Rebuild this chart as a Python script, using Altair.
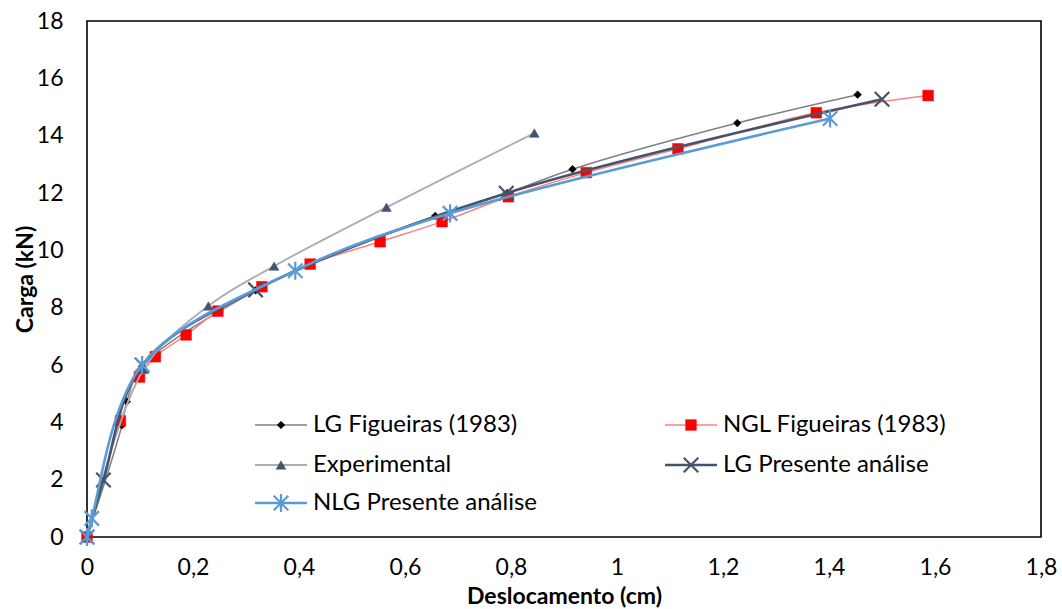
import altair as alt
import pandas as pd

# ---- data ----
lgf_x = [0, 0.066, 0.075, 0.104, 0.318, 0.421, 0.657, 0.793, 0.916, 1.227, 1.454]
lgf_y = [0, 3.9, 4.72, 5.95, 8.6, 9.5, 11.2, 12.0, 12.83, 14.44, 15.43]

ngl_x = [0, 0.063, 0.099, 0.129, 0.187, 0.247, 0.330, 0.421, 0.553, 0.670, 0.795, 0.942, 1.115, 1.376, 1.587]
ngl_y = [0, 4.05, 5.58, 6.29, 7.05, 7.88, 8.73, 9.52, 10.30, 11.0, 11.87, 12.71, 13.54, 14.80, 15.40]

exp_x = [0, 0.107, 0.229, 0.353, 0.565, 0.844]
exp_y = [0, 5.85, 8.06, 9.45, 11.5, 14.09]

lgp_x = [0, 0.031, 0.104, 0.318, 0.791, 1.500]
lgp_y = [0, 1.99, 6.0, 8.62, 11.99, 15.27]

nlg_x = [0, 0.009, 0.104, 0.393, 0.685, 1.402]
nlg_y = [0, 0.65, 6.0, 9.29, 11.29, 14.6]

names = ["LG Figueiras (1983)", "NGL Figueiras (1983)", "Experimental",
         "LG Presente análise", "NLG Presente análise"]

x_ticks = [0, 0.2, 0.4, 0.6, 0.8, 1.0, 1.2, 1.4, 1.6, 1.8]
y_ticks = [0, 2, 4, 6, 8, 10, 12, 14, 16, 18]

FONT = "Lato"
W, H = 954, 516

X_SHAPE = "M-1,-1L1,1M-1,1L1,-1"
STAR_SHAPE = "M-1,-1L1,1M-1,1L1,-1M0,-1.25L0,1.25"

styles = [
    dict(lc="#808080", lw=1.5, mc="#000000", shape="diamond", size=60, filled=True),
    dict(lc="#FF8080", lw=1.5, mc="#FF0000", shape="square", size=115, filled=True),
    dict(lc="#A6AEBB", lw=1.8, mc="#44546A", shape="triangle-up", size=95, filled=True),
    dict(lc="#44546A", lw=2.6, mc="#44546A", shape=X_SHAPE, size=210, filled=False),
    dict(lc="#5B9BD5", lw=2.6, mc="#5B9BD5", shape=STAR_SHAPE, size=210, filled=False),
]

series = [(lgf_x, lgf_y), (ngl_x, ngl_y), (exp_x, exp_y), (lgp_x, lgp_y), (nlg_x, nlg_y)]

xs = alt.Scale(domain=[0, 1.8], nice=False)
ys = alt.Scale(domain=[0, 18], nice=False)

x_axis = alt.Axis(values=x_ticks, labelExpr="replace(format(datum.value, '~g'), '.', ',')",
                  title="Deslocamento (cm)", grid=False, ticks=False, domain=False,
                  labelFlush=False, labelPadding=19,
                  titleX=W / 2, titleY=59, titleBaseline="middle", titleAlign="center")
y_axis = alt.Axis(values=y_ticks, title="Carga (kN)", grid=False, ticks=False, domain=False,
                  labelFlush=False, labelPadding=24,
                  titleX=-62, titleY=H / 2, titleBaseline="middle", titleAlign="center",
                  titleAngle=270)

layers = []
for i, ((sx, sy), st) in enumerate(zip(series, styles)):
    df = pd.DataFrame({"x": sx, "y": sy, "serie": names[i]})
    base = alt.Chart(df)
    enc_x = alt.X("x:Q", scale=xs, axis=x_axis)
    enc_y = alt.Y("y:Q", scale=ys, axis=y_axis)
    line = base.mark_line(color=st["lc"], strokeWidth=st["lw"], interpolate="catmull-rom").encode(
        x=enc_x, y=enc_y, order=alt.Order("x:Q"))
    if st["filled"]:
        pts = base.mark_point(shape=st["shape"], size=st["size"], filled=True, fill=st["mc"],
                              stroke=st["mc"], strokeWidth=0.5, opacity=1)
    else:
        pts = base.mark_point(shape=st["shape"], size=st["size"], filled=False, stroke=st["mc"],
                              strokeWidth=2.2, opacity=1)
    pts = pts.encode(x=enc_x, y=enc_y)
    layers += [line, pts]

# ---- manual legend (inside the plot area, two columns) ----
leg_rows = [0, 0, 1, 1, 2]
leg_cols = [0, 1, 0, 1, 0]
col_x0 = [168, 578]
row_y = [404, 444, 482]
leg = pd.DataFrame({
    "serie": names,
    "x0": [col_x0[c] for c in leg_cols],
    "row": [row_y[r] for r in leg_rows],
})
leg["x1"] = leg["x0"] + 52
leg["xm"] = leg["x0"] + 26
leg["xt"] = leg["x0"] + 58

for i, st in enumerate(styles):
    d = leg.iloc[[i]]
    b = alt.Chart(d)
    layers.append(b.mark_rule(color=st["lc"], strokeWidth=st["lw"]).encode(
        x=alt.X("x0:Q", scale=None), x2="x1:Q", y=alt.Y("row:Q", scale=None)))
    if st["filled"]:
        m = b.mark_point(shape=st["shape"], size=st["size"], filled=True, fill=st["mc"],
                         stroke=st["mc"], strokeWidth=0.5, opacity=1)
    else:
        m = b.mark_point(shape=st["shape"], size=st["size"], filled=False, stroke=st["mc"],
                         strokeWidth=2.2, opacity=1)
    layers.append(m.encode(x=alt.X("xm:Q", scale=None), y=alt.Y("row:Q", scale=None)))

layers.append(alt.Chart(leg).mark_text(align="left", baseline="middle", font=FONT, fontSize=24,
                                       color="#000000").encode(
    x=alt.X("xt:Q", scale=None), y=alt.Y("row:Q", scale=None), text="serie:N"))

chart = alt.layer(*layers).properties(
    width=W, height=H,
    autosize=alt.AutoSizeParams(type="none"),
    padding={"left": 87, "top": 21, "right": 21, "bottom": 72},
    background="#FFFFFF",
).configure_view(stroke="#000000", strokeWidth=1.6).configure_axis(
    labelFont=FONT, labelFontSize=23, labelColor="#000000",
    titleFont=FONT, titleFontSize=23, titleFontWeight="bold", titleColor="#000000",
)

chart.save("out.html", embed_options={"renderer": "svg", "actions": False})
